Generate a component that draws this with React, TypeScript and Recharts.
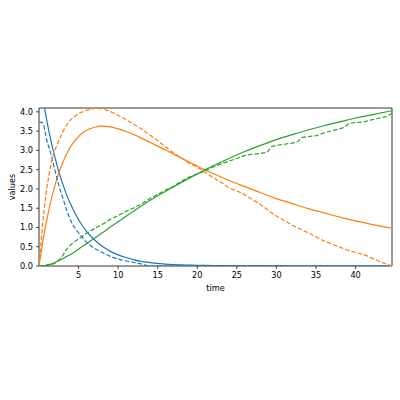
import { LineChart, Line, XAxis, YAxis, ReferenceArea } from 'recharts'

// model curves (solid)
const solidTime = [0, 0.25, 0.5, 0.75, 1, 1.5, 2, 2.5, 3, 3.5, 4, 5, 6, 7, 8, 9, 10, 11, 12, 14, 16, 18, 20, 22, 24, 26, 28, 30, 32, 34, 36, 38, 40, 42, 44.6]
const blueSolid = [5.0, 4.66, 4.34, 4.04, 3.76, 3.26, 2.83, 2.45, 2.13, 1.84, 1.6, 1.2, 0.9, 0.68, 0.51, 0.38, 0.29, 0.22, 0.16, 0.09, 0.05, 0.03, 0.02, 0.01, 0.005, 0.003, 0.002, 0.001, 0, 0, 0, 0, 0, 0, 0]
const orangeSolid = [0, 0.34, 0.66, 0.95, 1.21, 1.69, 2.08, 2.41, 2.68, 2.91, 3.1, 3.36, 3.52, 3.6, 3.63, 3.61, 3.56, 3.49, 3.41, 3.21, 3.01, 2.8, 2.59, 2.4, 2.22, 2.06, 1.9, 1.75, 1.62, 1.49, 1.38, 1.27, 1.17, 1.08, 0.98]
const greenSolid = [0, 0, 0, 0.01, 0.03, 0.05, 0.09, 0.14, 0.19, 0.25, 0.3, 0.44, 0.58, 0.72, 0.86, 1.01, 1.15, 1.29, 1.43, 1.7, 1.94, 2.17, 2.39, 2.6, 2.79, 2.97, 3.13, 3.28, 3.41, 3.53, 3.64, 3.74, 3.84, 3.92, 4.03]

// simulated runs (dashed)
const blueDashTime = [0, 0.5, 0.75, 1, 1.3, 1.65, 2, 2.5, 3, 3.5, 4, 4.5, 5, 6, 7, 8, 9, 10, 11, 12, 13, 13.7, 14, 44.6]
const blueDash = [3.74, 3.71, 3.5, 3.25, 3.05, 2.8, 2.5, 2.1, 1.77, 1.45, 1.18, 1.0, 0.86, 0.62, 0.46, 0.35, 0.25, 0.18, 0.13, 0.09, 0.05, 0.01, 0, 0]

const orangeDashTime = [0, 0.25, 0.5, 0.75, 1, 1.25, 1.5, 1.75, 2, 2.5, 3, 3.5, 4, 5, 6, 7, 8, 9, 10, 11, 12, 13, 14, 15, 16, 17, 18, 19, 20, 21, 22, 23, 24, 25, 26, 27, 28, 29, 30, 31, 32, 33, 34, 35, 36, 37, 38, 39, 40, 41, 42, 43, 44, 44.6]
const orangeDash = [0, 0.6, 1.2, 1.65, 2.05, 2.35, 2.62, 2.85, 3.0, 3.25, 3.48, 3.66, 3.8, 3.96, 4.04, 4.09, 4.08, 4.01, 3.91, 3.8, 3.67, 3.55, 3.4, 3.25, 3.09, 2.93, 2.8, 2.66, 2.56, 2.43, 2.29, 2.17, 2.03, 1.95, 1.85, 1.72, 1.59, 1.44, 1.3, 1.18, 1.06, 0.96, 0.86, 0.76, 0.65, 0.57, 0.49, 0.41, 0.35, 0.3, 0.21, 0.12, 0.04, 0]

const greenDashTime = [0, 1, 1.5, 2, 2.5, 3, 3.5, 4, 4.5, 5, 6, 7, 8, 9, 10, 11, 12, 13, 14, 15, 16, 17, 18, 19, 20, 21, 22, 23, 24, 25, 26, 27, 28, 28.8, 29.4, 30, 31, 32, 32.7, 33.3, 34, 35, 36, 37, 38, 38.6, 39.2, 40, 41, 42, 43, 44, 44.6]
const greenDash = [0, 0.01, 0.03, 0.07, 0.15, 0.27, 0.44, 0.55, 0.63, 0.7, 0.85, 0.97, 1.08, 1.21, 1.31, 1.42, 1.51, 1.62, 1.75, 1.86, 1.97, 2.07, 2.2, 2.31, 2.39, 2.47, 2.57, 2.65, 2.72, 2.79, 2.87, 2.9, 2.92, 2.95, 3.1, 3.13, 3.16, 3.19, 3.23, 3.34, 3.36, 3.38, 3.45, 3.51, 3.56, 3.6, 3.7, 3.72, 3.74, 3.79, 3.84, 3.88, 3.97]

const xTicks = [5, 10, 15, 20, 25, 30, 35, 40]
const yTicks = [0, 0.5, 1, 1.5, 2, 2.5, 3, 3.5, 4]

const toPoints = (ts: number[], vs: number[]) => ts.map((t, i) => ({ t, v: vs[i] }))

const font = { fontFamily: 'DejaVu Sans', fontSize: 8.2, fill: '#000' }

export default function App() {
  return (
    <div style={{ position: 'absolute', left: 0, top: 0, width: 400, height: 400, background: '#fff' }}>
      <LineChart width={400} height={400} margin={{ top: 108, right: 8, bottom: 104, left: 0 }}>
        <XAxis
          type="number"
          dataKey="t"
          domain={[0, 44.6]}
          ticks={xTicks}
          allowDataOverflow
          height={30}
          axisLine={false}
          tickLine={{ stroke: '#000', strokeWidth: 0.7 }}
          tickSize={3}
          tickMargin={3}
          tick={font}
          label={{ value: 'time', position: 'insideBottom', offset: 5, ...font }}
        />
        <YAxis
          type="number"
          domain={[0, 4.1]}
          ticks={yTicks}
          allowDataOverflow
          width={39}
          axisLine={false}
          tickLine={{ stroke: '#000', strokeWidth: 0.7 }}
          tickSize={3}
          tickMargin={3}
          tick={font}
          tickFormatter={(v: number) => v.toFixed(1)}
          label={{ value: 'values', angle: -90, position: 'insideLeft', offset: 12, style: { textAnchor: 'middle' }, ...font }}
        />
        <Line data={toPoints(solidTime, blueSolid)} dataKey="v" type="monotone" stroke="#1f77b4" strokeWidth={1.2} dot={false} isAnimationActive={false} />
        <Line data={toPoints(solidTime, orangeSolid)} dataKey="v" type="monotone" stroke="#ff7f0e" strokeWidth={1.2} dot={false} isAnimationActive={false} />
        <Line data={toPoints(solidTime, greenSolid)} dataKey="v" type="monotone" stroke="#2ca02c" strokeWidth={1.2} dot={false} isAnimationActive={false} />
        <Line data={toPoints(blueDashTime, blueDash)} dataKey="v" type="monotone" stroke="#1f77b4" strokeWidth={1.2} strokeDasharray="4.5 2" dot={false} isAnimationActive={false} />
        <Line data={toPoints(orangeDashTime, orangeDash)} dataKey="v" type="linear" stroke="#ff7f0e" strokeWidth={1.2} strokeDasharray="4.5 2" dot={false} isAnimationActive={false} />
        <Line data={toPoints(greenDashTime, greenDash)} dataKey="v" type="linear" stroke="#2ca02c" strokeWidth={1.2} strokeDasharray="4.5 2" dot={false} isAnimationActive={false} />
        <ReferenceArea x1={0} x2={44.6} y1={0} y2={4.1} fill="none" stroke="#000" strokeWidth={0.8} />
      </LineChart>
    </div>
  )
}
